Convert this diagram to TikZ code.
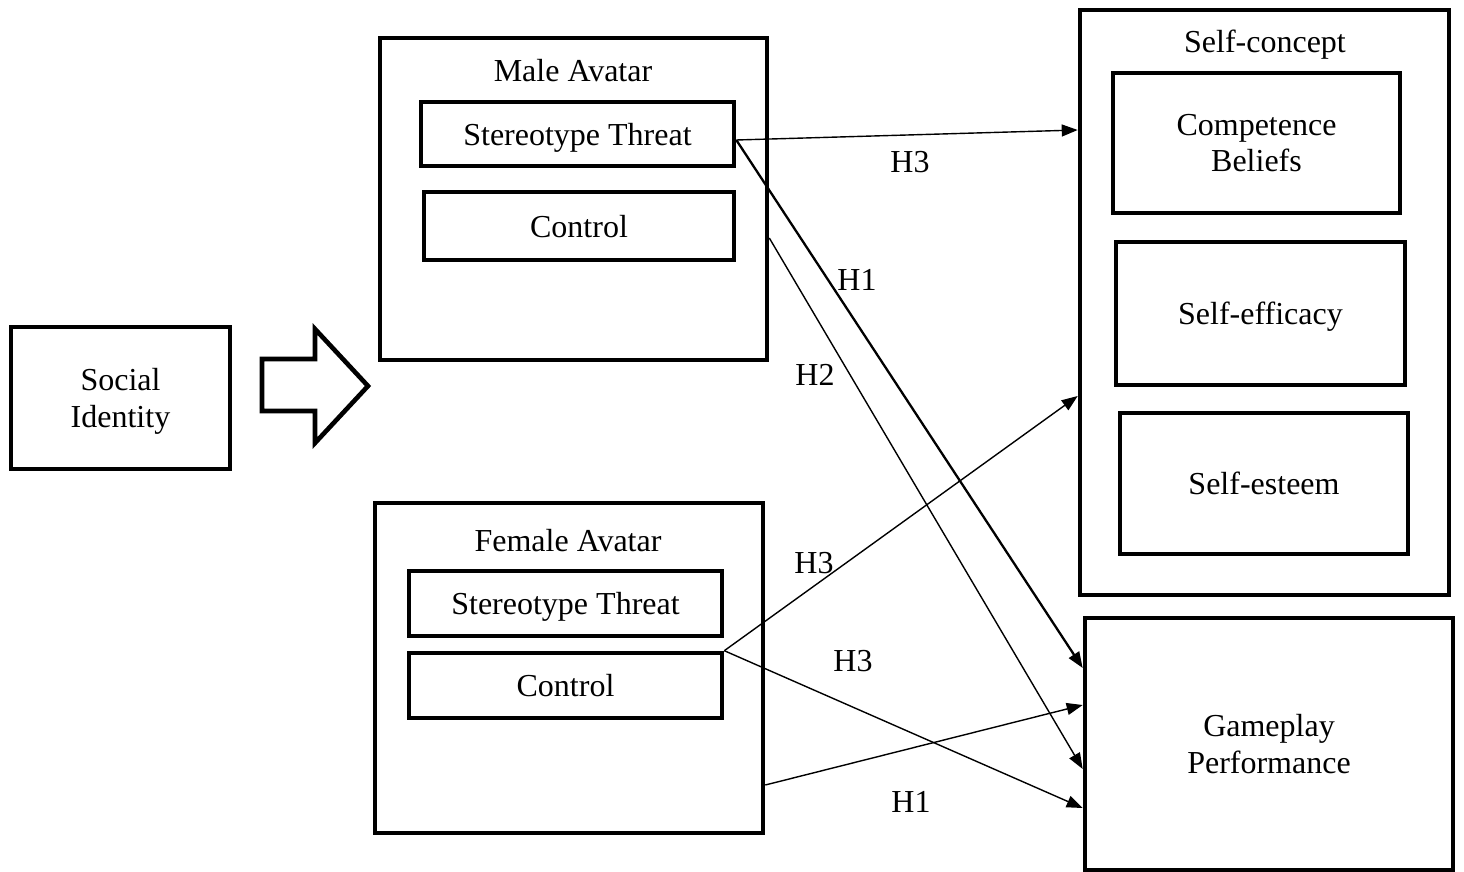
\documentclass[tikz,border=0pt]{standalone}
\usepackage{fontspec}
\setmainfont{Liberation Serif}
\usetikzlibrary{arrows.meta,calc}
\begin{document}
\begin{tikzpicture}[x=1pt,y=-1pt,
  box/.style={draw=black,line width=4.6pt,rectangle,inner sep=0pt,align=center,
    text depth=0pt,font=\fontsize{32}{36.5}\selectfont},
  lbl/.style={inner sep=0pt,text depth=0pt,font=\fontsize{32}{36.5}\selectfont},
  conn/.style={line width=1.4pt,-{Triangle[length=16pt,width=12pt]}},
  connthick/.style={line width=2.3pt,-{Triangle[length=16pt,width=12pt]}},
  blockarrow/.style={draw=black,line width=4.6pt,fill=white,line join=miter}
]
\useasboundingbox (0,0) rectangle (1464,872);
\fill[white] (0,0) rectangle (1464,872);

% Social identity
\node[box,minimum width=219pt,minimum height=142pt] (si) at (120.5,398) {Social\\Identity};

% block arrow
\draw[blockarrow] (262,359) -- (315,359) -- (315,329) -- (368,386) -- (315,443) -- (315,411) -- (262,411) -- cycle;

% Male avatar
\node[box,minimum width=387pt,minimum height=322pt] (male) at (573.5,199) {};
\node[lbl] (maletitle) at (573,70) {Male Avatar};
\node[box,minimum width=313pt,minimum height=64pt] (mst) at (577.5,134) {Stereotype Threat};
\node[box,minimum width=310pt,minimum height=68pt] (mctrl) at (579,226) {Control};

% Female avatar
\node[box,minimum width=388pt,minimum height=330pt] (female) at (569,668) {};
\node[lbl] (femaletitle) at (568,540) {Female Avatar};
\node[box,minimum width=313pt,minimum height=65pt] (fst) at (565.5,603.5) {Stereotype Threat};
\node[box,minimum width=313pt,minimum height=65pt] (fctrl) at (565.5,685.5) {Control};

% Self-concept
\node[box,minimum width=369pt,minimum height=585pt] (sc) at (1264.5,302.5) {};
\node[lbl] (sctitle) at (1265,41) {Self-concept};
\node[box,minimum width=287pt,minimum height=140pt] (cb) at (1256.5,143) {Competence\\Beliefs};
\node[box,minimum width=289pt,minimum height=143pt] (sef) at (1260.5,313.5) {Self-efficacy};
\node[box,minimum width=288pt,minimum height=141pt] (ses) at (1264,483.5) {Self-esteem};

% Gameplay performance
\node[box,minimum width=368pt,minimum height=252pt] (gp) at (1269,744) {Gameplay\\Performance};

% connectors
\draw[conn] (mst.east |- 0,140) -- (sc.west |- 0,130);
\draw[connthick] (mst.east |- 0,140) -- (gp.west |- 0,668);
\draw[conn] (male.east |- 0,238) -- (gp.west |- 0,769);
\draw[conn] (fctrl.north east) -- (sc.west |- 0,396);
\draw[conn] (fctrl.north east) -- (gp.west |- 0,808);
\draw[conn] (female.east |- 0,785) -- (gp.west |- 0,705);

% labels
\node[lbl] (h3a) at (910,162) {H3};
\node[lbl] (h1a) at (857,280) {H1};
\node[lbl] (h2a) at (815,375) {H2};
\node[lbl] (h3b) at (814,563) {H3};
\node[lbl] (h3c) at (853,661) {H3};
\node[lbl] (h1b) at (911,802) {H1};
\end{tikzpicture}
\end{document}
